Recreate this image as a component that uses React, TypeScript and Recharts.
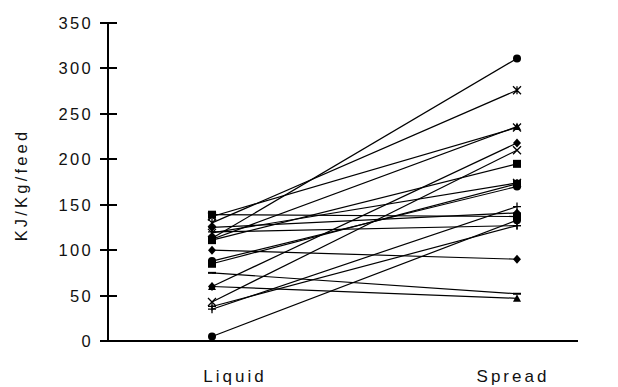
import React from 'react';
import { LineChart, Line, XAxis, YAxis } from 'recharts';

const categories = ['Liquid', 'Spread'];
const liquidValues = [139, 137, 130, 125, 113, 112, 111, 119, 120, 100, 88, 85, 75, 60, 60, 43, 35, 38, 5];
const spreadValues = [137, 235, 276, 141, 311, 236, 195, 174, 127, 90, 170, 173, 52, 47, 218, 210, 148, 127, 133];
const markerShapes = ['square', 'cross', 'star', 'diamond', 'circle', 'triangle', 'square', 'star', 'plus', 'diamond', 'circle', 'square', 'dash', 'triangle', 'diamond', 'cross', 'plus', 'plus', 'circle'];
const yTicks = [0, 50, 100, 150, 200, 250, 300, 350];

const seriesKeys = liquidValues.map((_, i) => `s${i}`);
const data = categories.map((name, ci) => {
  const row: Record<string, any> = { name };
  seriesKeys.forEach((k, i) => {
    row[k] = ci === 0 ? liquidValues[i] : spreadValues[i];
  });
  return row;
});

const INK = '#000';
const AXIS_X = 108;
const PLOT_TOP = 23;
const FONT = '"Liberation Sans", Arial, sans-serif';

const makeDot = (shape: string, sk: string) => (props: any) => {
  const { cx, cy, index } = props;
  const key = `${sk}-${index}`;
  if (cx == null || cy == null) return <g key={key} />;
  const r = 4;
  switch (shape) {
    case 'circle':
      return <circle key={key} cx={cx} cy={cy} r={r} fill={INK} />;
    case 'square':
      return <rect key={key} x={cx - r} y={cy - r} width={2 * r} height={2 * r} fill={INK} />;
    case 'diamond':
      return <path key={key} d={`M${cx},${cy - r - 0.5}L${cx + r},${cy}L${cx},${cy + r + 0.5}L${cx - r},${cy}Z`} fill={INK} />;
    case 'triangle':
      return <path key={key} d={`M${cx},${cy - r}L${cx + r},${cy + r - 0.5}L${cx - r},${cy + r - 0.5}Z`} fill={INK} />;
    case 'cross':
      return (
        <path key={key} d={`M${cx - r},${cy - r}L${cx + r},${cy + r}M${cx - r},${cy + r}L${cx + r},${cy - r}`} stroke={INK} strokeWidth={1.3} fill="none" />
      );
    case 'star':
      return (
        <path key={key} d={`M${cx - r},${cy - r}L${cx + r},${cy + r}M${cx - r},${cy + r}L${cx + r},${cy - r}M${cx},${cy - r}L${cx},${cy + r}`} stroke={INK} strokeWidth={1.3} fill="none" />
      );
    case 'plus':
      return (
        <path key={key} d={`M${cx - r},${cy}L${cx + r},${cy}M${cx},${cy - r}L${cx},${cy + r}`} stroke={INK} strokeWidth={1.3} fill="none" />
      );
    case 'dash':
      return <path key={key} d={`M${cx - r},${cy}L${cx + r},${cy}`} stroke={INK} strokeWidth={2} fill="none" />;
    default:
      return <g key={key} />;
  }
};

const YTick = (props: any) => {
  const { y, payload } = props;
  const yy = Math.round(y);
  return (
    <g>
      <rect x={AXIS_X - 8} y={yy - 1} width={17} height={2} fill={INK} />
      <text x={AXIS_X - 15} y={y} dy={6} textAnchor="end" fontSize={16.5} fontFamily={FONT} letterSpacing={2.3} fill="#111">
        {payload.value}
      </text>
    </g>
  );
};

const xLabelShift = [23, -4];
const XTick = (props: any) => {
  const { x, payload, index } = props;
  return (
    <text x={x + (xLabelShift[index] ?? 0)} y={382} textAnchor="middle" fontSize={17} fontFamily={FONT} letterSpacing={3} fill="#111">
      {payload.value}
    </text>
  );
};

const YLabel = (props: any) => {
  const vb = props.viewBox || { x: 0, y: 23, width: 108, height: 318 };
  const cx = vb.x + 21;
  const cy = vb.y + vb.height / 2 + 3;
  return (
    <text x={cx} y={cy} transform={`rotate(-90, ${cx}, ${cy})`} textAnchor="middle" dominantBaseline="central" fontSize={16.5} fontFamily={FONT} letterSpacing={3.2} fill="#111">
      KJ/Kg/feed
    </text>
  );
};

const AxisLines = (props: any) => {
  const vb = props.viewBox || { x: 108, y: 341, width: 470, height: 40 };
  return (
    <g>
      <rect x={vb.x - 1} y={vb.y - 1} width={vb.width + 1} height={2} fill={INK} />
      <rect x={vb.x - 1} y={PLOT_TOP} width={2} height={vb.y - PLOT_TOP + 1} fill={INK} />
    </g>
  );
};

export default function App() {
  return (
    <div style={{ position: 'absolute', left: 0, top: 0, width: 618, height: 387, background: '#fff' }}>
      <LineChart width={618} height={387} data={data} margin={{ top: 23, right: 40, bottom: 6, left: 0 }}>
        <YAxis
          domain={[0, 350]}
          ticks={yTicks}
          width={108}
          axisLine={false}
          tickLine={false}
          tick={<YTick />}
          interval={0}
          label={<YLabel />}
        />
        <XAxis
          dataKey="name"
          scale="point"
          padding={{ left: 104, right: 61 }}
          axisLine={false}
          tickLine={false}
          tick={<XTick />}
          height={40}
          interval={0}
          label={<AxisLines />}
        />
        {seriesKeys.map((k, i) => (
          <Line
            key={k}
            dataKey={k}
            type="linear"
            stroke={INK}
            strokeWidth={1.2}
            dot={makeDot(markerShapes[i], k)}
            activeDot={false}
            isAnimationActive={false}
          />
        ))}
      </LineChart>
    </div>
  );
}
